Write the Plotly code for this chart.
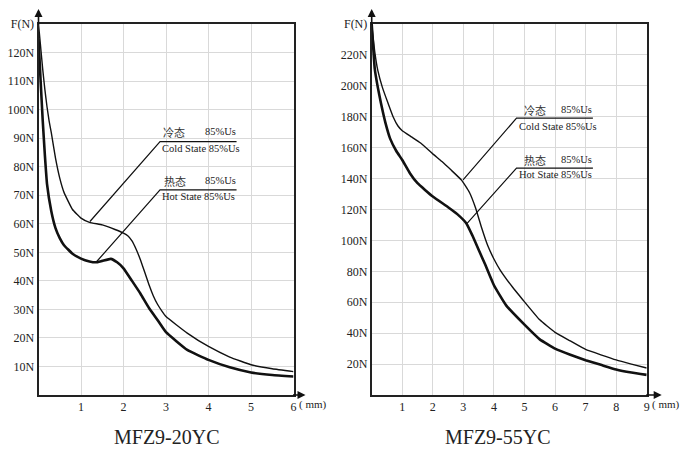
import plotly.graph_objects as go

# ---------------- data: MFZ9-20YC ----------------
x20_hot = [0, 0.05, 0.1, 0.15, 0.2, 0.3, 0.4, 0.5, 0.6, 0.8, 1.0, 1.2, 1.35, 1.5, 1.7, 1.85, 2.0, 2.2, 2.4, 2.6, 2.8, 3.0, 3.5, 4.0, 4.5, 5.0, 5.5, 6.0]
f20_hot = [125, 110, 96, 84, 74, 64.5, 58.5, 55, 52.5, 49.5, 47.8, 46.8, 46.5, 47, 47.7, 46.5, 44.4, 40, 35.5, 30.5, 26.3, 22, 15.8, 12.3, 9.7, 7.9, 7.0, 6.5]
x20_cold = [0, 0.05, 0.1, 0.15, 0.2, 0.25, 0.3, 0.4, 0.5, 0.6, 0.8, 1.0, 1.2, 1.5, 1.8, 2.0, 2.1, 2.2, 2.3, 2.4, 2.5, 2.6, 2.7, 2.8, 2.9, 3.0, 3.5, 4.0, 4.5, 5.0, 5.5, 6.0]
f20_cold = [130, 122, 114, 107, 101, 96, 92, 83, 76, 71, 65, 62, 60.5, 59.6, 58, 56.7, 55.8, 54, 51, 47.3, 43, 38.6, 34.8, 31.8, 29.5, 27.5, 21.7, 17, 13.3, 10.6, 9.2, 8.2]

# ---------------- data: MFZ9-55YC ----------------
x55_hot = [0, 0.1, 0.2, 0.3, 0.45, 0.6, 0.8, 1.0, 1.25, 1.5, 2.0, 2.5, 2.8, 3.1, 3.3, 3.5, 3.7, 4.0, 4.4, 5.0, 5.5, 6.0, 6.5, 7.0, 7.5, 8.0, 8.5, 9.0]
f55_hot = [240, 211, 199, 189, 176, 166, 158, 152, 143.5, 137, 128.4, 121.5, 117, 111, 103, 94, 85, 71, 58, 45.5, 36, 30, 26, 22.5, 19.5, 16.5, 14.5, 13]
x55_cold = [0, 0.1, 0.2, 0.35, 0.53, 0.7, 0.86, 1.0, 1.3, 1.6, 2.0, 2.3, 2.6, 2.94, 3.2, 3.4, 3.6, 3.8, 4.0, 4.2, 4.6, 4.95, 5.5, 6.0, 6.5, 7.0, 7.5, 8.0, 8.5, 9.0]
f55_cold = [240, 222, 210, 199, 189, 180, 174, 171, 167, 163, 156, 151, 145.5, 139, 131, 121, 108, 96.5, 88, 81, 70, 61.5, 48.6, 40.5, 35, 29.5, 26, 22.7, 20, 17.5]

# tick labels
x20_ticks = [1, 2, 3, 4, 5, 6]
x20_text = ["1", "2", "3", "4", "5", "6"]
y20_ticks = [10, 20, 30, 40, 50, 60, 70, 80, 90, 100, 110, 120, 130]
y20_text = ["10N", "20N", "30N", "40N", "50N", "60N", "70N", "80N", "90N", "100N", "110N", "120N", "F(N)"]
x55_ticks = [1, 2, 3, 4, 5, 6, 7, 8, 9]
x55_text = ["1", "2", "3", "4", "5", "6", "7", "8", "9"]
y55_ticks = [20, 40, 60, 80, 100, 120, 140, 160, 180, 200, 220, 240]
y55_text = ["20N", "40N", "60N", "80N", "100N", "120N", "140N", "160N", "180N", "200N", "220N", "F(N)"]

titles = ["MFZ9-20YC", "MFZ9-55YC"]
label_cn = ["冷态", "热态"]
label_en = ["Cold State 85%Us", "Hot State 85%Us"]
label_pct = "85%Us"

# leader lines (curve point -> elbow -> end of underline)
lead20_cold = ([1.21, 2.86, 4.66], [60.8, 88.8, 88.8])
lead20_hot = ([1.36, 2.86, 4.66], [46.6, 71.9, 71.9])
lead55_cold = ([2.99, 4.74, 7.24], [139.2, 179.1, 179.1])
lead55_hot = ([3.1, 4.74, 7.24], [110.5, 146.8, 146.8])

W, H = 685, 460
L1, R1 = 38.5, 293.5
L2, R2 = 371.7, 646.7
TOP, BOT = 24, 395

BLACK = "#111111"
SERIF = "Liberation Serif"

fig = go.Figure()

def curve(x, y, w, xa, ya):
    fig.add_trace(go.Scatter(x=x, y=y, mode="lines", xaxis=xa, yaxis=ya,
                             line=dict(color=BLACK, width=w, shape="spline", smoothing=0.35),
                             hoverinfo="skip", showlegend=False))

def leader(pts, xa, ya):
    fig.add_trace(go.Scatter(x=pts[0], y=pts[1], mode="lines", xaxis=xa, yaxis=ya,
                             line=dict(color=BLACK, width=1.2),
                             hoverinfo="skip", showlegend=False))

curve(x20_cold, f20_cold, 1.4, "x", "y")
curve(x20_hot, f20_hot, 2.6, "x", "y")
curve(x55_cold, f55_cold, 1.4, "x2", "y2")
curve(x55_hot, f55_hot, 2.6, "x2", "y2")
leader(lead20_cold, "x", "y")
leader(lead20_hot, "x", "y")
leader(lead55_cold, "x2", "y2")
leader(lead55_hot, "x2", "y2")

grid = "#d9d9d9"
axline = "#222222"
tickfont = dict(family=SERIF, size=12, color="#222")

def xaxis(rng, tv, tt, dom, anchor):
    return dict(domain=dom, range=rng, anchor=anchor, tickvals=tv, ticktext=tt,
                showgrid=True, gridcolor=grid, gridwidth=1, zeroline=False,
                showline=True, mirror=True, linecolor=axline, linewidth=2,
                ticks="", tickfont=tickfont, fixedrange=True, automargin=False)

def yaxis(rng, tv, tt, anchor):
    return dict(domain=[1 - BOT / H, 1 - TOP / H], range=rng, anchor=anchor,
                tickvals=tv, ticktext=tt,
                showgrid=True, gridcolor=grid, gridwidth=1, zeroline=False,
                showline=True, mirror=True, linecolor=axline, linewidth=2,
                ticks="", tickfont=tickfont, fixedrange=True, automargin=False)

annotations = []
# axis arrows
for xd, yd in (("x domain", "y domain"), ("x2 domain", "y2 domain")):
    annotations.append(dict(xref=xd, yref=yd, x=0, y=1 + 15 / (BOT - TOP), ax=0, ay=17,
                            axref="pixel", ayref="pixel", text="", showarrow=True,
                            arrowhead=2, arrowsize=1, arrowwidth=1.6, arrowcolor=BLACK))
annotations.append(dict(xref="x domain", yref="y domain", x=1 + 12 / (R1 - L1), y=0, ax=-14, ay=0,
                        text="", showarrow=True, arrowhead=2, arrowsize=1, arrowwidth=1.6, arrowcolor=BLACK))
annotations.append(dict(xref="x2 domain", yref="y2 domain", x=1 + 15 / (R2 - L2), y=0, ax=-17, ay=0,
                        text="", showarrow=True, arrowhead=2, arrowsize=1, arrowwidth=1.6, arrowcolor=BLACK))
# unit labels
annotations.append(dict(xref="paper", yref="paper", x=(R1 + 3) / W, y=1 - 404 / H, text="( mm)",
                        showarrow=False, xanchor="left", yanchor="middle",
                        font=dict(family=SERIF, size=11, color="#222")))
annotations.append(dict(xref="paper", yref="paper", x=(R2 + 3) / W, y=1 - 404 / H, text="( mm)",
                        showarrow=False, xanchor="left", yanchor="middle",
                        font=dict(family=SERIF, size=11, color="#222")))
# titles
annotations.append(dict(xref="paper", yref="paper", x=167 / W, y=1 - 437 / H, text=titles[0],
                        showarrow=False, xanchor="center", yanchor="middle",
                        font=dict(family=SERIF, size=20, color="#222")))
annotations.append(dict(xref="paper", yref="paper", x=498 / W, y=1 - 437 / H, text=titles[1],
                        showarrow=False, xanchor="center", yanchor="middle",
                        font=dict(family=SERIF, size=20, color="#222")))

# curve labels
lab_font = dict(family=SERIF, size=10.5, color="#222")
cn_font = dict(family="Noto Sans CJK SC", size=11, color="#333")

def labels(xr, yr, x_cn, x_pct, x_en, y_cn, y_en, i):
    annotations.append(dict(xref=xr, yref=yr, x=x_cn, y=y_cn, text=label_cn[i], showarrow=False,
                            xanchor="left", yanchor="middle", font=cn_font))
    annotations.append(dict(xref=xr, yref=yr, x=x_pct, y=y_cn, text=label_pct, showarrow=False,
                            xanchor="left", yanchor="middle", font=lab_font))
    annotations.append(dict(xref=xr, yref=yr, x=x_en, y=y_en, text=label_en[i], showarrow=False,
                            xanchor="left", yanchor="middle", font=lab_font))

labels("x", "y", 2.88, 3.87, 2.86, 92.2, 86.4, 0)
labels("x", "y", 2.9, 3.87, 2.86, 75.0, 69.4, 1)
labels("x2", "y2", 4.93, 6.12, 4.76, 184.5, 173.7, 0)
labels("x2", "y2", 4.93, 6.12, 4.76, 152.1, 142.4, 1)

fig.update_layout(
    width=W, height=H,
    margin=dict(l=0, r=0, t=0, b=0, autoexpand=False),
    paper_bgcolor="white", plot_bgcolor="white",
    showlegend=False,
    xaxis=xaxis([0, 6], x20_ticks, x20_text, [L1 / W, R1 / W], "y"),
    yaxis=yaxis([0, 130], y20_ticks, y20_text, "x"),
    xaxis2=xaxis([0, 9], x55_ticks, x55_text, [L2 / W, R2 / W], "y2"),
    yaxis2=yaxis([0, 240], y55_ticks, y55_text, "x2"),
    annotations=annotations,
)

fig.write_html("out.html", config={"displayModeBar": False},
               post_script="document.body.style.margin='0';document.body.style.padding='0';")
